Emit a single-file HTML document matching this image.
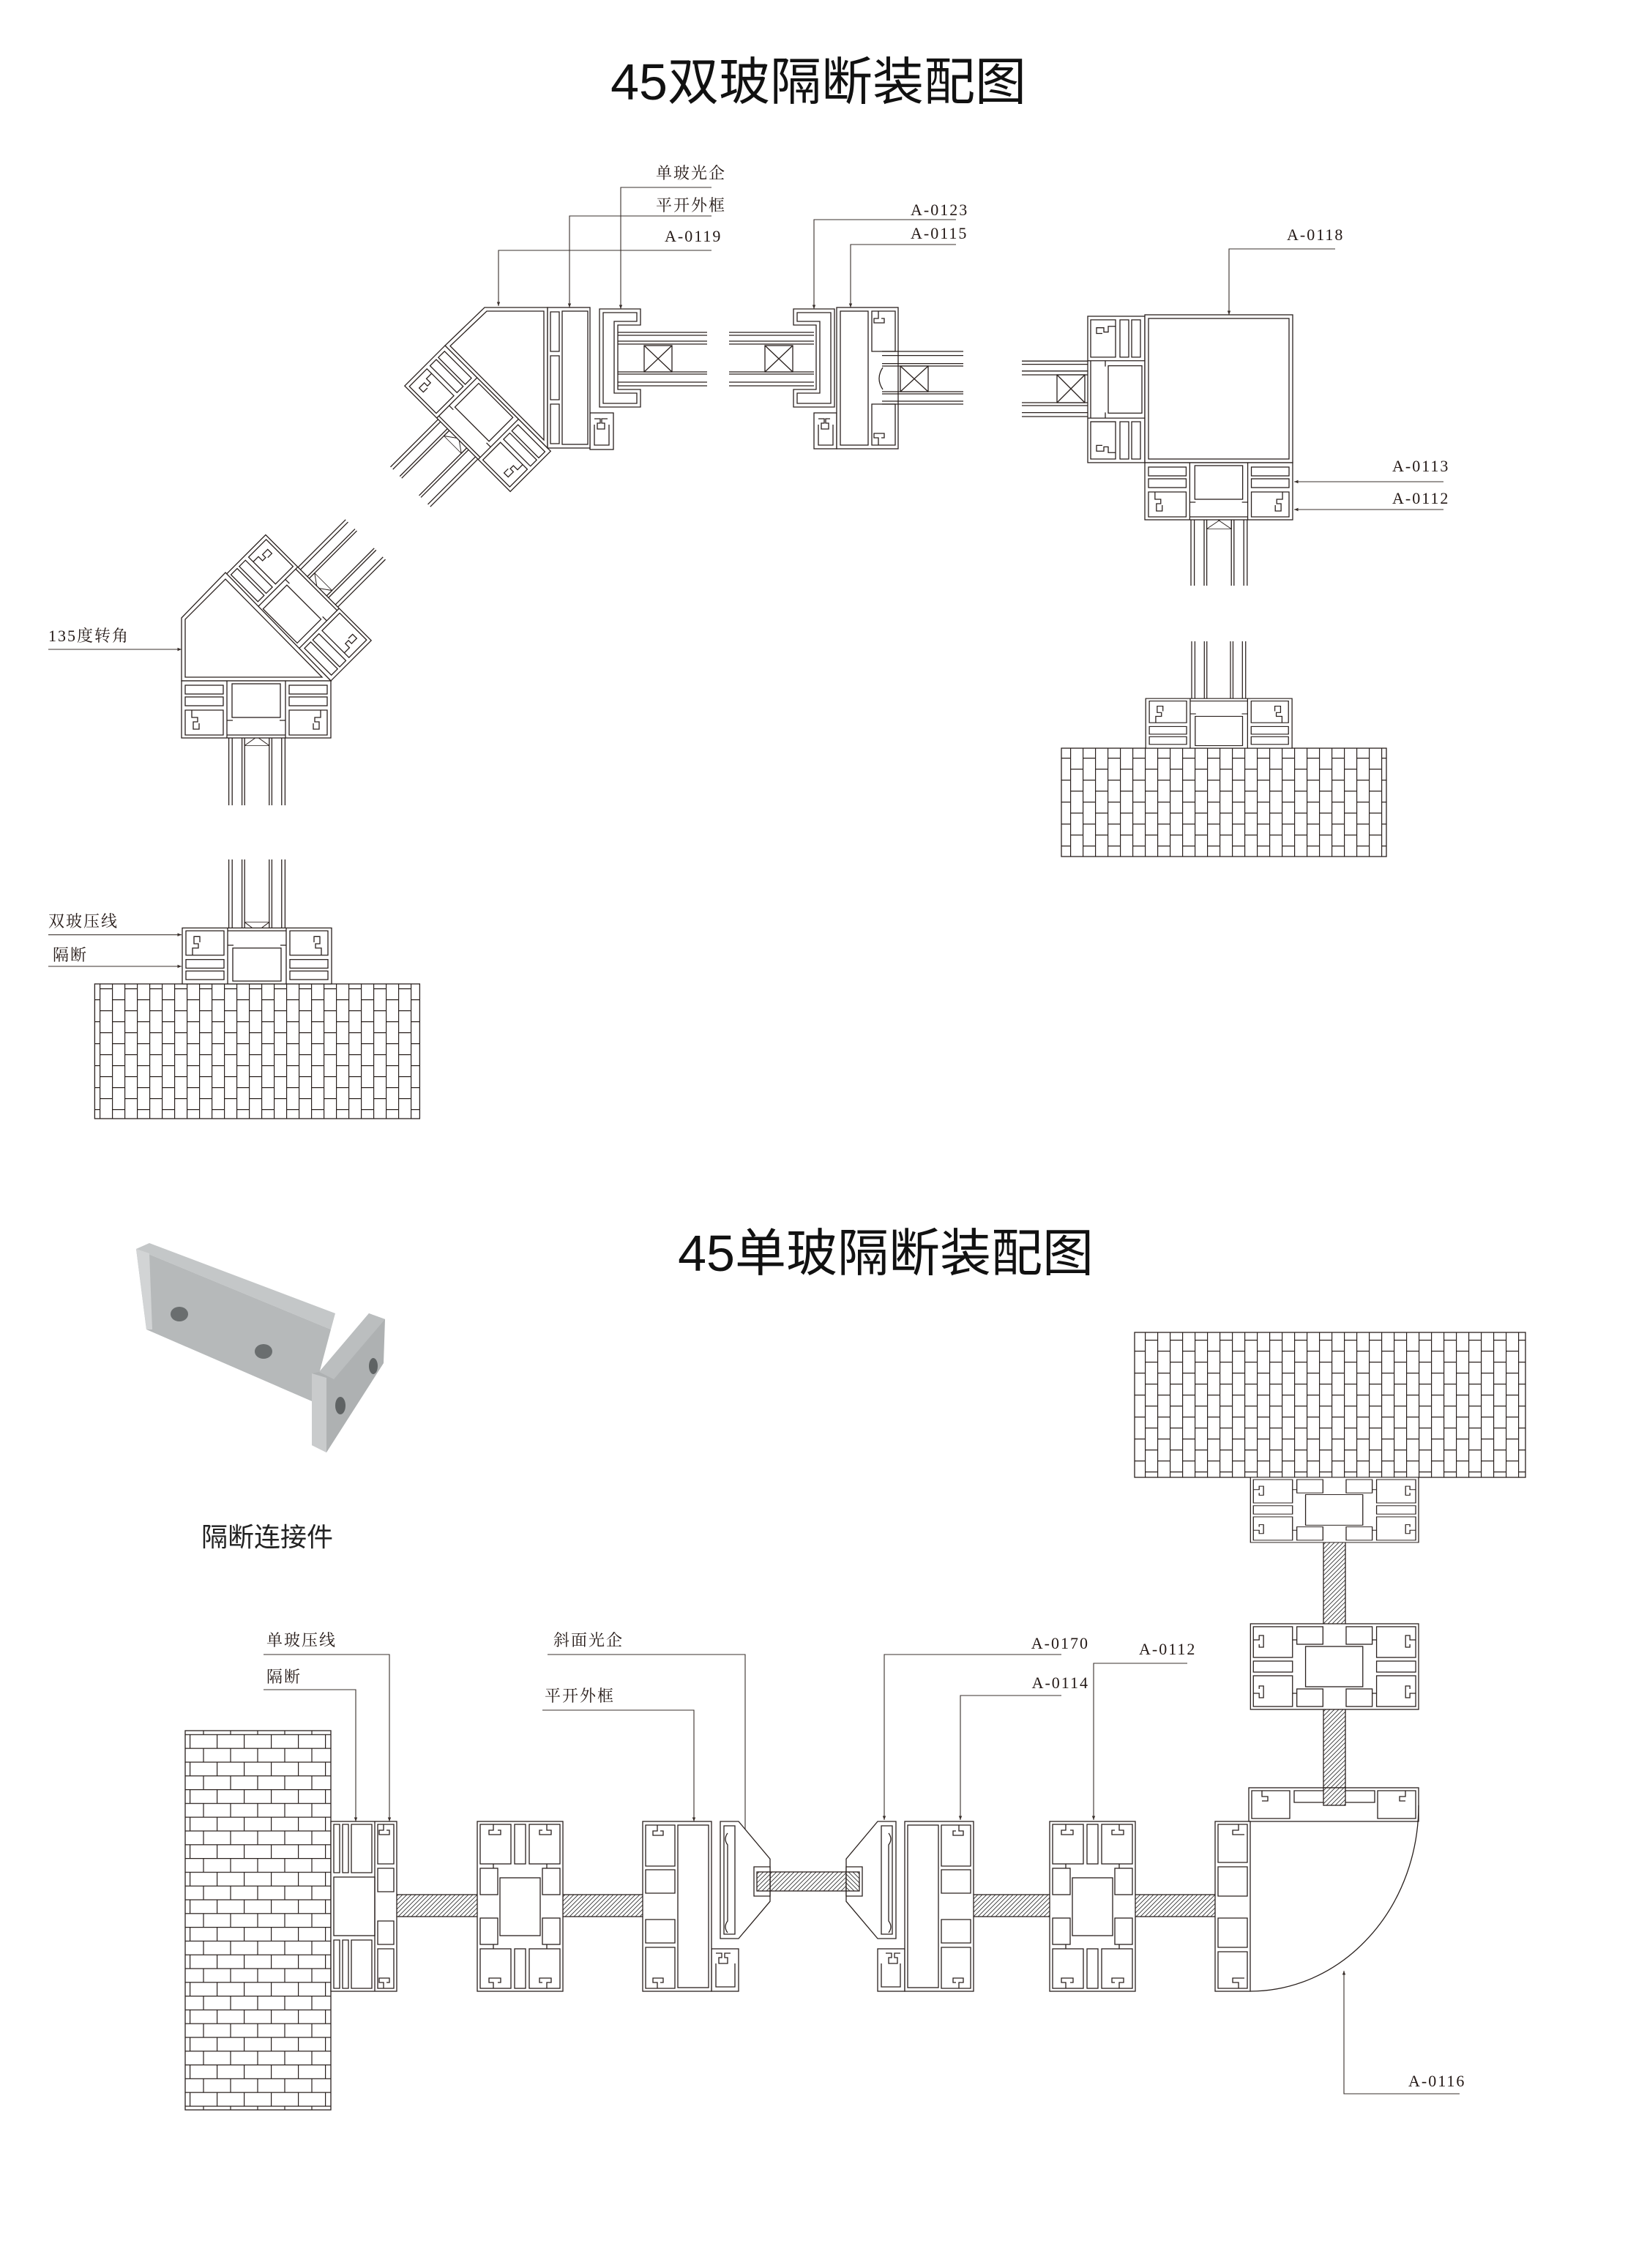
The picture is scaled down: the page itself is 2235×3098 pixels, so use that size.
<!DOCTYPE html>
<html><head><meta charset="utf-8"><style>
html,body{margin:0;padding:0;background:#fff}
svg{display:block}
.s{fill:#fff;stroke:#2a211e;stroke-width:0.65}
.n{fill:none;stroke:#2a211e;stroke-width:0.65}
.l{fill:none;stroke:#3a302c;stroke-width:0.55}
.t{font-family:"Liberation Serif","Noto Serif CJK SC",serif;font-size:11px;fill:#231815;letter-spacing:1px}
.ti{font-family:"Liberation Sans","Noto Sans CJK SC",sans-serif;font-size:35px;fill:#111;letter-spacing:0px}
</style></head><body>
<svg width="2235" height="3098" viewBox="0 0 1117.5 1549" xmlns="http://www.w3.org/2000/svg">
<defs>
<marker id="ar" viewBox="0 0 10 10" refX="10" refY="5" markerWidth="5" markerHeight="5" orient="auto"><path d="M0,1L10,5L0,9z" fill="#3a302c"/></marker>
<pattern id="hatch" patternUnits="userSpaceOnUse" width="3" height="3"><rect width="3" height="3" fill="#fff"/><path d="M-1,1l2,-2M0,3l3,-3M2,4l2,-2" stroke="#333" stroke-width="0.45"/></pattern>
<pattern id="bv" patternUnits="userSpaceOnUse" width="17" height="15"><rect width="17" height="15" fill="#fff"/><path d="M0.3,0V15M8.8,0V15M0,0.3H8.5M8.5,7.8H17" stroke="#2a211e" stroke-width="0.6" fill="none"/></pattern>
<pattern id="bh" patternUnits="userSpaceOnUse" width="18.5" height="18.8"><rect width="18.5" height="18.8" fill="#fff"/><path d="M0,0.3H18.5M0,9.7H18.5M0.3,0V9.4M9.5,9.4V18.8" stroke="#2a211e" stroke-width="0.6" fill="none"/></pattern>

<g id="unit">
<rect class="s" x="0" y="0" width="102" height="39"/>
<path class="n" d="M31,0V39M71,0V39"/>
<rect class="n" x="34.5" y="2" width="33" height="23"/>
<rect class="n" x="2.5" y="3" width="26" height="6"/><rect class="n" x="2.5" y="11" width="26" height="6"/>
<path class="n" d="M2.5,20H28.5V37H2.5Z M7,20v5h4v3h-3v5h4v-4"/>
<rect class="n" x="73.5" y="3" width="26" height="6"/><rect class="n" x="73.5" y="11" width="26" height="6"/>
<path class="n" d="M73.5,20H99.5V37H73.5Z M95,20v5h-4v3h3v5h-4v-4"/>
<path class="n" d="M31,27H35M67,27H71M31,37H71"/>
</g>
<g id="glass">
<path class="n" d="M0,0V100M2.3,0V100M9,0V100M10.8,0V100M27.6,0V100M29.4,0V100M36.1,0V100M38.4,0V100"/>
<rect class="s" x="10.8" y="12" width="16.8" height="20"/>
<path class="n" d="M10.8,12L27.6,32M27.6,12L10.8,32M9,7Q19.2,-2 29.4,7"/>
</g>
<g id="p2">
<rect class="s" x="0" y="0" width="58.5" height="116"/>
<rect class="n" x="2" y="2" width="21" height="27"/><rect class="n" x="25.5" y="2" width="7.5" height="27"/><rect class="n" x="35.5" y="2" width="21" height="27"/>
<rect class="n" x="2" y="32" width="12" height="18"/><rect class="n" x="2" y="66" width="12" height="18"/>
<rect class="n" x="44.5" y="32" width="12" height="18"/><rect class="n" x="44.5" y="66" width="12" height="18"/>
<rect class="n" x="15.5" y="38.5" width="27.5" height="39.5"/>
<rect class="n" x="2" y="87" width="21" height="27"/><rect class="n" x="25.5" y="87" width="7.5" height="27"/><rect class="n" x="35.5" y="87" width="21" height="27"/>
<path class="n" d="M11,2v4h-3v3h8v-3h-2M47.5,2v4h3v3h-8v-3h2M11,114v-4h-3v-3h8v3h-2M47.5,114v-4h3v-3h-8v3h2M11,29v3M47.5,29v3M11,84v3M47.5,84v3"/>
</g>
</defs>

<text class="ti" x="701" y="68" text-anchor="end">45双玻隔断装配图</text>
<text class="ti" x="747" y="868" text-anchor="end">45单玻隔断装配图</text>

<text class="t" x="448" y="122">单玻光企</text>
<text class="t" x="448" y="144">平开外框</text>
<text class="t" x="454" y="165">A-0119</text>
<path class="l" d="M486,128H424V211" marker-end="url(#ar)"/>
<path class="l" d="M486,147.5H389V210" marker-end="url(#ar)"/>
<path class="l" d="M486,171H340.5V209" marker-end="url(#ar)"/>
<text class="t" x="622" y="147">A-0123</text>
<text class="t" x="622" y="163">A-0115</text>
<path class="l" d="M653,150H556V211" marker-end="url(#ar)"/>
<path class="l" d="M653,167H581V210" marker-end="url(#ar)"/>
<text class="t" x="879" y="164">A-0118</text>
<path class="l" d="M912,170H839.5V215" marker-end="url(#ar)"/>
<text class="t" x="951" y="322">A-0113</text>
<text class="t" x="951" y="344">A-0112</text>
<path class="l" d="M986,329H884" marker-end="url(#ar)"/>
<path class="l" d="M986,348H884" marker-end="url(#ar)"/>

<use href="#glass" transform="translate(304,236) rotate(45) translate(32.3,25) scale(1,0.6)"/>
<use href="#unit" transform="translate(304,236) rotate(45)"/>
<path class="s" d="M331,210H374V306L304,236Z"/>
<path class="n" d="M332.5,212.5H371.5V300.5L307.5,236.3Z"/>
<rect class="s" x="403" y="282" width="16" height="25"/>
<path class="n" d="M406,286h4v3h-2v4h5v-4h-2v-3h4M406,290v14h10v-14"/>
<rect class="s" x="374" y="210" width="29" height="96"/>
<rect class="n" x="384" y="212.5" width="17.5" height="91"/>
<path class="n" d="M376,213h6v27h-6zM376,243h6v30h-6zM376,276h6v27h-6z"/>
<path class="n" d="M421,227H483M421,229H483M421,233H483M421,235H483M421,254H483M421,255.5H483M421,261H483M421,263.5H483"/>
<rect class="s" x="440" y="236" width="19" height="18"/><path class="n" d="M440,236L459,254M459,236L440,254"/>
<path class="s" d="M409.5,211H437.5V222H422V266H437.5V278H409.5Z"/>
<path class="n" d="M412,213.5H435V219.5H419.5V268.5H435V275.5H412Z"/>
<path class="n" d="M498,227H556M498,229H556M498,233H556M498,235H556M498,254H556M498,255.5H556M498,261H556M498,263.5H556"/>
<rect class="s" x="522.5" y="236" width="19" height="18"/><path class="n" d="M522.5,236L541.5,254M541.5,236L522.5,254"/>
<path class="s" d="M570,211H542V222H557.5V266H542V278H570Z"/>
<path class="n" d="M567.5,213.5H544.5V219.5H560V268.5H544.5V275.5H567.5Z"/>
<rect class="s" x="556" y="282" width="15.5" height="24.5"/>
<path class="n" d="M559,286h4v3h-2v4h5v-4h-2v-3h3M559,290v14h10v-14"/>
<rect class="s" x="571.5" y="210" width="42" height="96.5"/>
<rect class="n" x="574" y="212.5" width="19" height="91.5"/>
<path class="n" d="M595.5,212.5H611.5V240H595.5ZM595.5,276H611.5V304H595.5ZM600,212.5v5h-3v3h7v-3h-2M600,304v-5h-3v-3h7v3h-2"/>
<path class="n" d="M602.5,240H658M602.5,242.8H658M602.5,248.3H658M602.5,250H658M602.5,267.5H658M602.5,269H658M602.5,274H658M602.5,276H658"/>
<rect class="s" x="615" y="250" width="19" height="17.5"/><path class="n" d="M615,250L634,267.5M634,250L615,267.5M603,251Q598,258.5 603,266"/>
<path class="n" d="M698,246.6H753M698,248.8H753M698,253.4H753M698,256H753M698,275H753M698,277H753M698,281.8H753M698,284.5H753"/>
<rect class="s" x="722" y="256" width="19" height="19"/><path class="n" d="M722,256L741,275M741,256L722,275M753,256Q748,265.5 753,275"/>
<use href="#unit" transform="translate(782,216) rotate(90) scale(0.98,1)"/>
<rect class="s" x="782" y="215" width="101" height="101"/>
<rect class="n" x="784.5" y="217.5" width="96" height="96"/>
<use href="#glass" transform="translate(813.5,343) scale(1,0.57)"/>
<use href="#unit" transform="translate(782,316) scale(0.99,1)"/>

<text class="t" x="33" y="438">135度转角</text>
<path class="l" d="M33,443.5H124" marker-end="url(#ar)"/>
<use href="#glass" transform="translate(226,465) rotate(225) translate(32.3,25) scale(1,0.6)"/>
<use href="#unit" transform="translate(226,465) rotate(225)"/>
<path class="s" d="M124,422L154,391L226,465H124Z"/>
<path class="n" d="M126.5,423L154,395.5L220,462.5H126.5Z"/>
<use href="#glass" transform="translate(156.3,490) scale(1,0.6)"/>
<use href="#unit" transform="translate(124,465)"/>

<rect x="725" y="511" width="222" height="74" fill="url(#bv)" stroke="#2a211e" stroke-width="0.65"/>
<use href="#glass" transform="translate(814,500) scale(0.96,-0.62)"/>
<use href="#unit" transform="translate(782.6,511) scale(0.98,-0.87)"/>

<text class="t" x="33" y="633">双玻压线</text>
<path class="l" d="M33,638.4H124" marker-end="url(#ar)"/>
<text class="t" x="36" y="656">隔断</text>
<path class="l" d="M33,660H124" marker-end="url(#ar)"/>
<rect x="64.7" y="672" width="222" height="92" fill="url(#bv)" stroke="#2a211e" stroke-width="0.65"/>
<use href="#glass" transform="translate(156.3,650) scale(1,-0.63)"/>
<use href="#unit" transform="translate(124.5,672) scale(1,-0.98)"/>

<g>
<path d="M93,853L102,849L229,897L226,908Z" fill="#c4c7c8"/>
<path d="M93,853L226,908L213,957L100,908Z" fill="#b6b9ba"/>
<path d="M93,853L102,856L104,908L100,908Z" fill="#d2d4d5"/>
<path d="M218,937L252,897L263,901L262,931L223,992L213,987L213,938Z" fill="#aeb1b2"/>
<path d="M213,938L223,941L223,992L213,987Z" fill="#c9cbcc"/>
<path d="M218,937L252,897L263,901L228,942Z" fill="#bbbebf"/>
<ellipse cx="122.5" cy="897.5" rx="6" ry="5" fill="#6a6e6f"/>
<ellipse cx="180" cy="923" rx="6" ry="5" fill="#6a6e6f"/>
<ellipse cx="232.5" cy="960" rx="3.5" ry="6" fill="#5f6364"/>
<ellipse cx="255" cy="933" rx="3" ry="5.5" fill="#5f6364"/>
</g>
<text x="137.5" y="1056" style="font-family:'Liberation Sans','Noto Sans CJK SC',sans-serif;font-size:18px;fill:#222">隔断连接件</text>

<text class="t" x="182" y="1124">单玻压线</text>
<text class="t" x="182" y="1149">隔断</text>
<path class="l" d="M180,1130H266V1244" marker-end="url(#ar)"/>
<path class="l" d="M180,1154H243V1244" marker-end="url(#ar)"/>
<text class="t" x="378" y="1124">斜面光企</text>
<text class="t" x="372" y="1162">平开外框</text>
<path class="l" d="M374,1130H509V1256" marker-end="url(#ar)"/>
<path class="l" d="M370.5,1168H474V1244" marker-end="url(#ar)"/>
<text class="t" x="744" y="1126" text-anchor="end">A-0170</text>
<text class="t" x="744" y="1153" text-anchor="end">A-0114</text>
<path class="l" d="M725,1130H604V1243" marker-end="url(#ar)"/>
<path class="l" d="M725,1158H656V1243" marker-end="url(#ar)"/>
<text class="t" x="778" y="1130">A-0112</text>
<path class="l" d="M811,1136H747V1243" marker-end="url(#ar)"/>

<rect x="126.5" y="1182" width="99.5" height="259" fill="url(#bh)" stroke="#2a211e" stroke-width="0.65"/>
<rect x="259.5" y="1294" width="77.5" height="15" fill="url(#hatch)" stroke="#2a211e" stroke-width="0.65"/>
<rect x="373" y="1294" width="76" height="15" fill="url(#hatch)" stroke="#2a211e" stroke-width="0.65"/>
<rect x="511.5" y="1278.5" width="81" height="13" fill="url(#hatch)" stroke="#2a211e" stroke-width="0.65"/>
<rect x="655" y="1294" width="76" height="15" fill="url(#hatch)" stroke="#2a211e" stroke-width="0.65"/>
<rect x="767" y="1294" width="77.5" height="15" fill="url(#hatch)" stroke="#2a211e" stroke-width="0.65"/>
<rect x="904" y="1043" width="15" height="76" fill="url(#hatch)" stroke="#2a211e" stroke-width="0.65"/>
<rect x="904" y="1156" width="15" height="77" fill="url(#hatch)" stroke="#2a211e" stroke-width="0.65"/>

<g>
<rect class="s" x="226" y="1244" width="45" height="116"/>
<rect class="n" x="228" y="1282" width="28" height="40"/>
<path class="n" d="M228,1246h4v33h-4zM234,1246h4v33h-4zM240,1246h14v33h-14zM228,1325h4v33h-4zM234,1325h4v33h-4zM240,1325h14v33h-14z"/>
<path class="n" d="M258,1246h11v27h-11zM258,1276h11v16h-11zM258,1312h11v16h-11zM258,1331h11v27h-11zM256,1244v116M262,1246v4h-3v3h7v-3h-2M262,1358v-4h-3v-3h7v3h-2"/>
</g>
<use href="#p2" transform="translate(326,1244)"/>
<use href="#p2" transform="translate(717,1244)"/>

<g id="p3">
<rect class="s" x="486" y="1331" width="18.5" height="29"/>
<path class="n" d="M489,1334h4v3h-2v4h6v-4h-2v-3h4M489,1341v16h13v-16"/>
<rect class="s" x="439" y="1244" width="47" height="116"/>
<rect class="n" x="463" y="1246.5" width="21" height="111"/>
<path class="n" d="M441,1246.5h20v28h-20zM441,1277h20v16h-20zM441,1311h20v16h-20zM441,1330h20v28h-20zM449,1246.5v4h-3v3h7v-3h-2M449,1358v-4h-3v-3h7v3h-2"/>
<path class="s" d="M492,1244H504.5L526,1269.6V1298.6L504.5,1324H492Z"/>
<path class="n" d="M494.5,1247H502V1321H494.5Z M497,1252q-3,4 0,8v52q-3,4 0,8"/>
<path class="s" d="M515,1275H526V1295H515Z"/>
<rect x="517" y="1278.5" width="9" height="13" fill="url(#hatch)" stroke="#2a211e" stroke-width="0.65"/>
</g>
<use href="#p3" transform="translate(1104,0) scale(-1,1)"/>

<rect x="775" y="910" width="267" height="99" fill="url(#bv)" stroke="#2a211e" stroke-width="0.65"/>
<use href="#p2" transform="translate(969,1009) rotate(90) scale(0.76,0.99)"/>
<use href="#p2" transform="translate(969,1109) rotate(90) scale(1,0.99)"/>
<g>
<rect class="s" x="853" y="1221" width="116" height="23"/>
<path class="n" d="M855,1223h26v19h-26zM941,1223h26v19h-26zM884,1223h55v8h-55zM862,1223v4h4v3h-4M960,1223v4h-4v3h4"/>
<rect x="904" y="1221" width="15" height="12" fill="url(#hatch)" stroke="#2a211e" stroke-width="0.65"/>
<rect class="s" x="830" y="1244" width="24" height="116"/>
<path class="n" d="M832,1246h20v26h-20zM832,1275h20v20h-20zM832,1310h20v20h-20zM832,1333h20v25h-20zM846,1246v4h-4v3h8M846,1358v-4h-4v-3h8"/>
<path class="n" d="M969,1233A115,127 0 0 1 854,1360"/>
</g>
<text class="t" x="962" y="1425">A-0116</text>
<path class="l" d="M997,1430H918V1346" marker-end="url(#ar)"/>
</svg>
</body></html>
